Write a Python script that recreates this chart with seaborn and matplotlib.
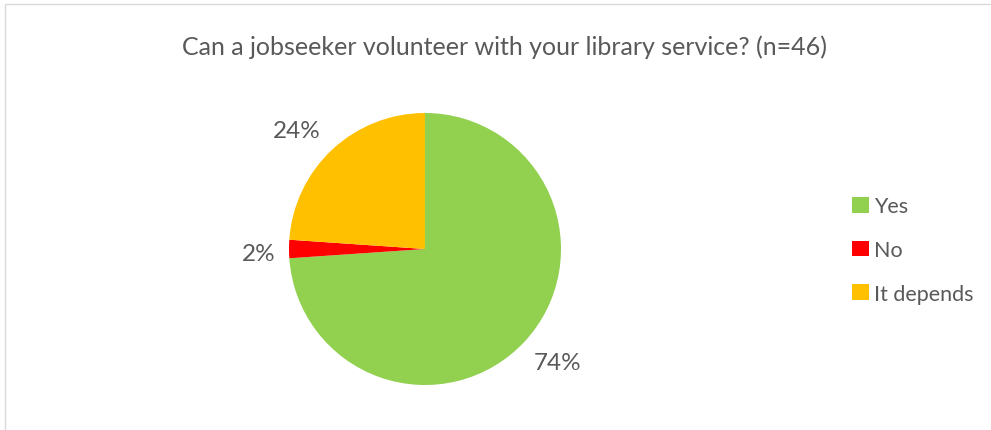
import matplotlib
matplotlib.use("Agg")
import matplotlib.pyplot as plt
import seaborn as sns
from matplotlib.patches import Rectangle, Patch

categories = ["Yes", "No", "It depends"]
counts = [34, 1, 11]
colors = ["#92D050", "#FF0000", "#FFC000"]
title = "Can a jobseeker volunteer with your library service? (n=46)"

sns.set_theme(style="white")
plt.rcParams["font.family"] = ["Lato", "DejaVu Sans"]
text_color = "#595959"
palette = sns.color_palette(colors)

W, H = 991, 431
fig = plt.figure(figsize=(W / 100, H / 100), dpi=100)
fig.patch.set_facecolor("white")

# light chart-area frame (top and left edges visible)
fig.add_artist(Rectangle((5 / W, -0.1), 1.2, 1 - 5 / H + 0.1, transform=fig.transFigure,
                         fill=False, edgecolor="#D9D9D9", linewidth=1.0))

cx, cy, r = 425, 250, 136
ax = fig.add_axes([(cx - r) / W, (H - cy - r) / H, 2 * r / W, 2 * r / H])
wedges, texts, autotexts = ax.pie(
    counts, colors=palette, startangle=90, counterclock=False,
    radius=1.0, autopct=lambda p: f"{p:.0f}%", pctdistance=1.28,
    wedgeprops=dict(linewidth=0),
    textprops=dict(color=text_color, fontsize=17.5),
)
# best-fit style nudges for the outside percentage labels
nudges = [(0.04, 0.04), (0.06, -0.03), (-0.07, -0.065)]
for t, (dx, dy) in zip(autotexts, nudges):
    x, y = t.get_position()
    t.set_position((x + dx, y + dy))

ax.set_xlim(-1, 1)
ax.set_ylim(-1, 1)
ax.set_aspect("equal")
ax.axis("off")

fig.text(504 / W, 1 - 47 / H, title, ha="center", va="center",
         fontsize=18, color=text_color)

handles = [Patch(facecolor=c, edgecolor="none") for c in palette]
fig.legend(handles, categories, loc="center left", bbox_to_anchor=(833 / W, 1 - 251 / H),
           frameon=False, fontsize=15.5, labelcolor=text_color,
           handlelength=0.75, handleheight=0.75, handletextpad=0.25, labelspacing=1.1)

fig.savefig("out.png", dpi=100)
